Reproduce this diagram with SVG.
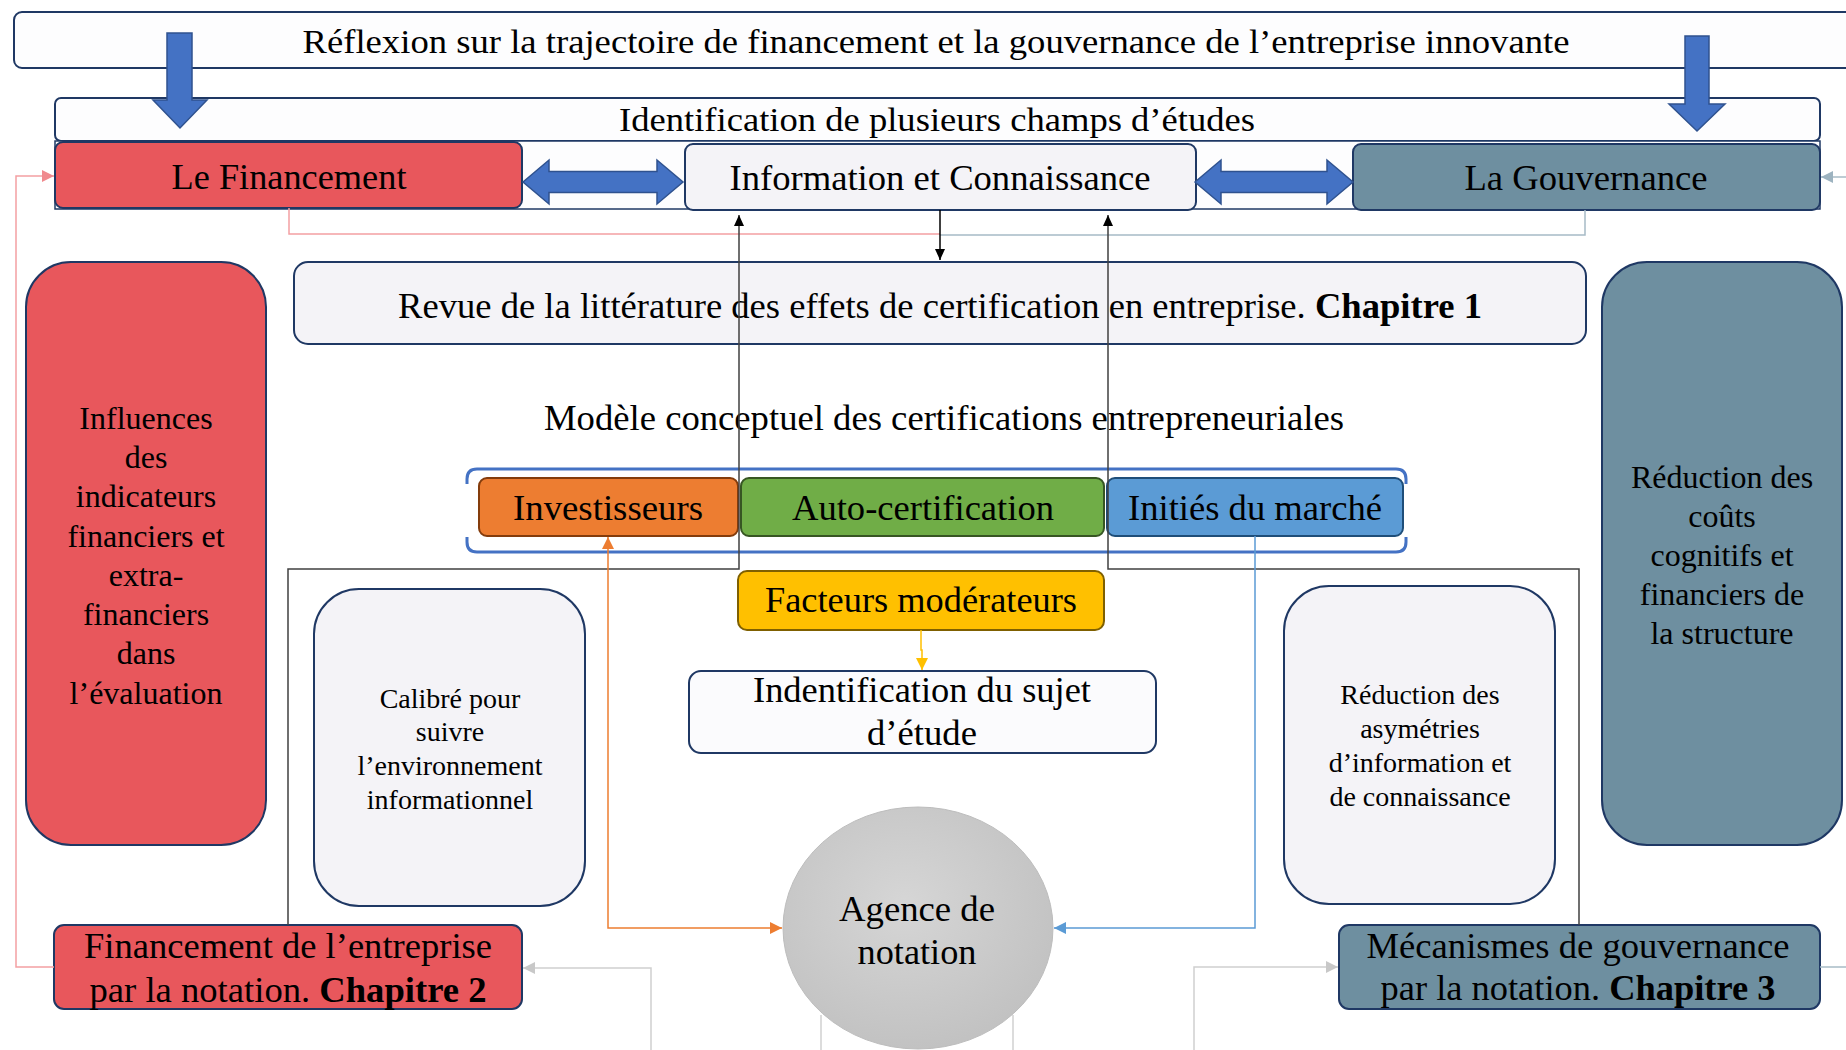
<svg xmlns="http://www.w3.org/2000/svg" width="1846" height="1050" viewBox="0 0 1846 1050">
<style>
text{font-family:"Liberation Serif","Times New Roman",serif;fill:#000;text-anchor:middle}
.nb{stroke:#1F3864;stroke-width:2}
.light{fill:#F4F3F7}
.red{fill:#E8575C}
.steel{fill:#6E8FA0}
.t36{font-size:36px}
.t33{font-size:33px}
.t32{font-size:32px}
.t28{font-size:28px}
.bar{fill:#4472C4;stroke:#2F528F;stroke-width:1.5}
.c{fill:none;stroke-width:1.5}
</style>
<defs>
<marker id="aBlack" markerUnits="userSpaceOnUse" markerWidth="12" markerHeight="12" refX="11" refY="5" orient="auto"><path d="M0,0 L11,5 L0,10 Z" fill="#000"/></marker>
<marker id="aOrange" markerUnits="userSpaceOnUse" markerWidth="14" markerHeight="14" refX="12" refY="6" orient="auto-start-reverse"><path d="M0,0 L12,6 L0,12 Z" fill="#ED7D31"/></marker>
<marker id="aBlue" markerUnits="userSpaceOnUse" markerWidth="14" markerHeight="14" refX="12" refY="6" orient="auto"><path d="M0,0 L12,6 L0,12 Z" fill="#5B9BD5"/></marker>
<marker id="aGold" markerUnits="userSpaceOnUse" markerWidth="14" markerHeight="14" refX="12" refY="6" orient="auto"><path d="M0,0 L12,6 L0,12 Z" fill="#FFC000"/></marker>
<marker id="aPink" markerUnits="userSpaceOnUse" markerWidth="14" markerHeight="14" refX="12" refY="6" orient="auto"><path d="M0,0 L12,6 L0,12 Z" fill="#F08A8E"/></marker>
<marker id="aSteel" markerUnits="userSpaceOnUse" markerWidth="14" markerHeight="14" refX="12" refY="6" orient="auto"><path d="M0,0 L12,6 L0,12 Z" fill="#9DB3C0"/></marker>
<marker id="aGray" markerUnits="userSpaceOnUse" markerWidth="14" markerHeight="14" refX="12" refY="6" orient="auto"><path d="M0,0 L12,6 L0,12 Z" fill="#C8C8C8"/></marker>
<radialGradient id="gEll" cx="45%" cy="40%" r="60%"><stop offset="0" stop-color="#D6D6D6"/><stop offset="1" stop-color="#C2C2C2"/></radialGradient>
</defs>

<g id="title">
<rect x="14" y="12" width="1850" height="56" rx="8" fill="#FDFDFE" class="nb"/>
<text x="936" y="53" class="t33" textLength="1267" lengthAdjust="spacingAndGlyphs">Réflexion sur la trajectoire de financement et la gouvernance de l’entreprise innovante</text>
</g>
<g id="identification">
<rect x="55" y="98" width="1765" height="43" rx="6" fill="#FDFDFE" class="nb"/>
<text x="937" y="131" class="t33" textLength="636" lengthAdjust="spacingAndGlyphs">Identification de plusieurs champs d’études</text>
</g>
<g id="row-container">
<rect x="55" y="141" width="1765" height="68" fill="#FDFDFE" stroke="#1F3864" stroke-width="1.5"/>
</g>
<g id="financement">
<rect x="55" y="142" width="467" height="66" rx="8" class="red nb"/>
<text x="289" y="189" class="t36" textLength="235" lengthAdjust="spacingAndGlyphs">Le Financement</text>
</g>
<g id="information">
<rect x="685" y="144" width="511" height="66" rx="8" class="light nb"/>
<text x="940" y="190" class="t36" textLength="421" lengthAdjust="spacingAndGlyphs">Information et Connaissance</text>
</g>
<g id="gouvernance">
<rect x="1353" y="144" width="467" height="66" rx="8" class="steel nb"/>
<text x="1586" y="190" class="t36" textLength="243" lengthAdjust="spacingAndGlyphs">La Gouvernance</text>
</g>
<g id="big-arrows">
<path class="bar" d="M167,33 H192 V100 H207 L180,128 L153,100 H167 Z"/>
<path class="bar" d="M1685,36 H1709 V104 H1725 L1697,131 L1669,104 H1685 Z"/>
<path class="bar" d="M523,182 L549,160 L549,171.5 L657,171.5 L657,160 L683,182 L657,204 L657,192.5 L549,192.5 L549,204 Z"/>
<path class="bar" d="M1195,182 L1221,160 L1221,171.5 L1327,171.5 L1327,160 L1353,182 L1327,204 L1327,192.5 L1221,192.5 L1221,204 Z"/>
</g>
<g id="influences">
<rect x="26" y="262" width="240" height="583" rx="45" class="red nb"/>
<text class="t32"><tspan x="146" y="429">Influences</tspan><tspan x="146" y="468">des</tspan><tspan x="146" y="507">indicateurs</tspan><tspan x="146" y="547">financiers et</tspan><tspan x="146" y="586">extra-</tspan><tspan x="146" y="625">financiers</tspan><tspan x="146" y="664">dans</tspan><tspan x="146" y="704">l’évaluation</tspan></text>
</g>
<g id="revue">
<rect x="294" y="262" width="1292" height="82" rx="14" class="light nb"/>
<text x="940" y="318" class="t36" textLength="1084" lengthAdjust="spacingAndGlyphs">Revue de la littérature des effets de certification en entreprise. <tspan font-weight="bold">Chapitre 1</tspan></text>
</g>
<g id="reduction-couts">
<rect x="1602" y="262" width="240" height="583" rx="45" class="steel nb"/>
<text class="t32"><tspan x="1722" y="488">Réduction des</tspan><tspan x="1722" y="527">coûts</tspan><tspan x="1722" y="566">cognitifs et</tspan><tspan x="1722" y="605">financiers de</tspan><tspan x="1722" y="644">la structure</tspan></text>
</g>
<g id="modele">
<text x="944" y="430" class="t36" textLength="800" lengthAdjust="spacingAndGlyphs">Modèle conceptuel des certifications entrepreneuriales</text>
<path d="M467,484 V479 Q467,469 477,469 H1396 Q1406,469 1406,479 V484" fill="none" stroke="#4472C4" stroke-width="3"/>
<path d="M467,537 V542 Q467,552 477,552 H1396 Q1406,552 1406,542 V537" fill="none" stroke="#4472C4" stroke-width="3"/>
</g>
<g id="investisseurs">
<rect x="479" y="478" width="259" height="58" rx="8" fill="#ED7D31" stroke="#843C0C" stroke-width="2"/>
<text x="608" y="520" class="t36" textLength="190" lengthAdjust="spacingAndGlyphs">Investisseurs</text>
</g>
<g id="auto-certification">
<rect x="741" y="478" width="363" height="58" rx="8" fill="#70AD47" stroke="#375623" stroke-width="2"/>
<text x="923" y="520" class="t36" textLength="262" lengthAdjust="spacingAndGlyphs">Auto-certification</text>
</g>
<g id="inities">
<rect x="1107" y="478" width="296" height="58" rx="8" fill="#5B9BD5" stroke="#1F4E79" stroke-width="2"/>
<text x="1255" y="520" class="t36" textLength="254" lengthAdjust="spacingAndGlyphs">Initiés du marché</text>
</g>
<g id="facteurs">
<rect x="738" y="571" width="366" height="59" rx="9" fill="#FFC000" stroke="#7F6000" stroke-width="2"/>
<text x="921" y="612" class="t36" textLength="312" lengthAdjust="spacingAndGlyphs">Facteurs modérateurs</text>
</g>
<g id="calibre">
<rect x="314" y="589" width="271" height="317" rx="45" class="light nb"/>
<text class="t28"><tspan x="450" y="708">Calibré pour</tspan><tspan x="450" y="741">suivre</tspan><tspan x="450" y="775">l’environnement</tspan><tspan x="450" y="809">informationnel</tspan></text>
</g>
<g id="reduction-asymetries">
<rect x="1284" y="586" width="271" height="318" rx="45" class="light nb"/>
<text class="t28"><tspan x="1420" y="704">Réduction des</tspan><tspan x="1420" y="738">asymétries</tspan><tspan x="1420" y="772">d’information et</tspan><tspan x="1420" y="806">de connaissance</tspan></text>
</g>
<g id="sujet">
<rect x="689" y="671" width="467" height="82" rx="12" fill="#FBFBFD" class="nb"/>
<text x="922" y="702" class="t36" textLength="338" lengthAdjust="spacingAndGlyphs">Indentification du sujet</text>
<text x="922" y="745" class="t36" textLength="110" lengthAdjust="spacingAndGlyphs">d’étude</text>
</g>
<g id="agence">
<ellipse cx="918" cy="928" rx="135" ry="121" fill="url(#gEll)" stroke="#BDBDBD" stroke-width="1"/>
<text x="917" y="921" class="t36" textLength="156" lengthAdjust="spacingAndGlyphs">Agence de</text>
<text x="917" y="964" class="t36" textLength="119" lengthAdjust="spacingAndGlyphs">notation</text>
</g>
<g id="chapitre2">
<rect x="54" y="925" width="468" height="84" rx="10" class="red nb"/>
<text x="288" y="958" class="t36" textLength="408" lengthAdjust="spacingAndGlyphs">Financement de l’entreprise</text>
<text x="288" y="1002" class="t36" textLength="397" lengthAdjust="spacingAndGlyphs">par la notation. <tspan font-weight="bold">Chapitre 2</tspan></text>
</g>
<g id="chapitre3">
<rect x="1339" y="925" width="481" height="84" rx="10" class="steel nb"/>
<text x="1578" y="958" class="t36" textLength="423" lengthAdjust="spacingAndGlyphs">Mécanismes de gouvernance</text>
<text x="1578" y="1000" class="t36" textLength="395" lengthAdjust="spacingAndGlyphs">par la notation. <tspan font-weight="bold">Chapitre 3</tspan></text>
</g>

<g id="connectors">
<path class="c" stroke="#F4A0A3" d="M289,208 V234 H940"/>
<path class="c" stroke="#A7BBC6" d="M1585,210 V235 H940"/>
<path class="c" stroke="#000" d="M940,210 V260" marker-end="url(#aBlack)"/>
<path class="c" stroke="#404040" d="M288,925 V569 H739 V215" marker-end="url(#aBlack)"/>
<path class="c" stroke="#404040" d="M1579,925 V569 H1108 V215" marker-end="url(#aBlack)"/>
<path class="c" stroke="#FFC000" d="M921,630 V650 H922 V670" marker-end="url(#aGold)"/>
<path class="c" stroke="#ED7D31" d="M608,537 V928 H782" marker-start="url(#aOrange)" marker-end="url(#aOrange)"/>
<path class="c" stroke="#5B9BD5" d="M1255,536 V928 H1054" marker-end="url(#aBlue)"/>
<path class="c" stroke="#F4A0A3" d="M54,967 H16 V176 H54" marker-end="url(#aPink)"/>
<path class="c" stroke="#A7BBC6" d="M1846,177 H1821" marker-end="url(#aSteel)"/>
<path class="c" stroke="#A7BBC6" d="M1820,967 H1846"/>
<path class="c" stroke="#D0D0D0" d="M651,1050 V968 H523" marker-end="url(#aGray)"/>
<path class="c" stroke="#D0D0D0" d="M1194,1050 V967 H1338" marker-end="url(#aGray)"/>
<path class="c" stroke="#D0D0D0" d="M821,1015 V1050"/>
<path class="c" stroke="#D0D0D0" d="M1013,1015 V1050"/>
</g>
</svg>
